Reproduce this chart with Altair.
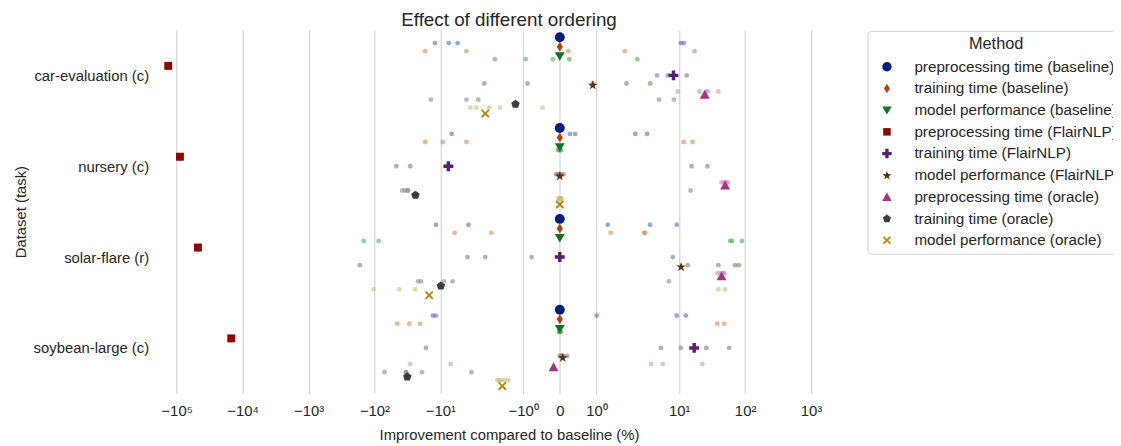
import math
import altair as alt
import pandas as pd

datasets = ["car-evaluation (c)", "nursery (c)", "solar-flare (r)", "soybean-large (c)"]
methods = [
    "preprocessing time (baseline)", "training time (baseline)", "model performance (baseline)",
    "preprocessing time (FlairNLP)", "training time (FlairNLP)", "model performance (FlairNLP)",
    "preprocessing time (oracle)", "training time (oracle)", "model performance (oracle)",
]

# mean improvement per method (large markers)
car_means = [0, 0, 0, -134000, 8.2, 0.9, 24.4, -1.21, -2.09]
nursery_means = [0, 0, 0, -89100, -7.57, 0.0, 49.8, -23.9, 0.0]
solar_means = [0, 0, 0, -47500, 0.0, 10.7, 43.9, -9.86, -14.8]
soybean_means = [0, 0, 0, -14860, 16.9, 0.08, -0.17, -31.8, -1.57]

# individual runs (small faint points)
car_runs = [
    [-12.1, -7.48, -5.48, 10.6, 11.7],
    [-17.1, -4.03, 0.23, 1.77, 17.1],
    [-1.77, -0.93, -0.19, 0.26, 2.32],
    [-131000, -136000, -133000, -138000, -132000],
    [4.62, 6.75, 8.3, 8.33, 13.0],
    [-2.16, -0.88, 0.9, 1.82, 3.63],
    [9.53, 20.3, 25.9, 27.1, 39.2],
    [-13.9, -4.03, -2.66, 4.95, 8.3],
    [-3.51, -2.85, -1.93, -1.63, -0.47],
]
nursery_runs = [
    [-6.75, 0.28, 0.42, 2.16, 3.27],
    [-17.1, -9.2, -4.03, 11.7, 16.0],
    [-0.05, 0.02, 0.03, -0.02, 0.0],
    [-86000, -91000, -88000, -93000, -87000],
    [-46.6, -28.7, -7.6, 15.4, 26.8],
    [-0.1, 0.05, 0.0, -0.05, 0.1],
    [43.5, 47.0, 50.0, 52.0, 55.0],
    [-37.9, -34.1, -31.6, -30.8, 14.9],
    [0.0, 0.02, -0.03, 0.05, -0.01],
]
solar_runs = [
    [-11.7, -3.76, 1.31, 3.63, 9.2],
    [-6.08, -1.87, 1.39, 2.95, 3.05],
    [-145, -86.5, 59.3, 63.5, 89.5],
    [-46000, -48500, -47000, -49000, -47500],
    [-3.89, -2.09, -0.77, 0.0, 8.02],
    [-167, 13.5, 39.2, 70.3, 80.7],
    [38, 42, 45, 47, 48],
    [-21.8, -19.7, -8.9, -6.52, 6.98],
    [-102.8, -42, -24.2, 39.2, 49.8],
]
soybean_runs = [
    [-13.0, -11.7, 1.01, 9.2, 12.6],
    [-45, -29.7, -20.3, 37.9, 48.2],
    [0.0, -0.02, 0.03, 0.01, -0.01],
    [-14500, -15200, -14800, -15000, -14700],
    [-16.5, 5.3, 10.6, 25.9, 57.3],
    [0.0, 0.1, 0.2, 0.05, 0.05],
    [-28.7, -6.98, 3.76, 5.68, 22.5],
    [-70.3, -33.0, -33.3, -19.0, -3.39],
    [-1.4, -1.6, -1.7, -1.5, -1.65],
]

tick_values = [-1e5, -1e4, -1e3, -1e2, -1e1, -1, 0, 1, 10, 100, 1000]
tick_labels = ["−10⁵", "−10⁴", "−10³", "−10²", "−10¹", "−10⁰", "0", "10⁰", "10¹", "10²", "10³"]

dark = ["#001c7f", "#b1400d", "#12711c", "#8c0800", "#591e71", "#592f0d", "#a23582", "#3c3c3c", "#b8850a"]
deep = ["#4c72b0", "#dd8452", "#55a868", "#c44e52", "#8172b3", "#937860", "#da8bc3", "#8c8c8c", "#ccb974"]

# ---- marker shapes (SVG paths in [-1, 1] box) ----
def poly(pts):
    return "M" + "L".join(f"{x:.3f},{y:.3f}" for x, y in pts) + "Z"

star_pts = []
for k in range(10):
    r = 1.0 if k % 2 == 0 else 0.40
    a = math.radians(-90 + 36 * k)
    star_pts.append((r * math.cos(a), r * math.sin(a) + 0.08))
pent_pts = [(0.9 * math.cos(math.radians(-90 + 72 * k)), 0.9 * math.sin(math.radians(-90 + 72 * k)) + 0.05) for k in range(5)]
t = 0.27
s = 0.87
x_pts = [(-s, -s + t), (-s + t, -s), (0, -t), (s - t, -s), (s, -s + t), (t, 0),
         (s, s - t), (s - t, s), (0, t), (-s + t, s), (-s, s - t), (-t, 0)]
w = 0.35
plus_pts = [(-w, -1), (w, -1), (w, -w), (1, -w), (1, w), (w, w), (w, 1), (-w, 1),
            (-w, w), (-1, w), (-1, -w), (-w, -w)]
shapes = [
    "circle",
    poly([(0, -1), (0.62, 0), (0, 1), (-0.62, 0)]),
    poly([(-1, -0.8), (1, -0.8), (0, 0.9)]),
    poly([(-0.8, -0.8), (0.8, -0.8), (0.8, 0.8), (-0.8, 0.8)]),
    poly(plus_pts),
    poly(star_pts),
    poly([(0, -0.95), (1, 0.85), (-1, 0.85)]),
    poly(pent_pts),
    poly(x_pts),
]

# ---- data table ----
rows = []
for di, (means, runs) in enumerate([(car_means, car_runs), (nursery_means, nursery_runs),
                                    (solar_means, solar_runs), (soybean_means, soybean_runs)]):
    for mi, m in enumerate(methods):
        rows.append({"dataset": datasets[di], "method": m, "di": di, "mi": mi,
                     "value": means[mi], "kind": "mean"})
        for v in runs[mi]:
            rows.append({"dataset": datasets[di], "method": m, "di": di, "mi": mi,
                         "value": v, "kind": "run"})
df = pd.DataFrame(rows)
run_keys = [f"run{i}" for i in range(len(methods))]

# matplotlib-style symlog (linthresh=2, linscale=1)
def symlog(v):
    if abs(v) <= 2:
        return v / 0.9
    return math.copysign(2 * (1 / 0.9 + math.log10(abs(v) / 2)), v)

u_expr = ("abs(datum.value) <= 2 ? datum.value / 0.9 : "
          "(datum.value > 0 ? 1 : -1) * 2 * (1 / 0.9 + log(abs(datum.value) / 2) / LN10)")

tick_u = [symlog(v) for v in tick_values]
expr = f"'{tick_labels[-1]}'"
for i in range(len(tick_u) - 2, -1, -1):
    th = (tick_u[i] + tick_u[i + 1]) / 2
    expr = f"datum.value < {th:.4f} ? '{tick_labels[i]}' : ({expr})"
ylabel_expr = "[" + ",".join(f"'{d}'" for d in datasets) + "][datum.value]"

FONT = "Liberation Sans"
TXT = "#262626"

xscale = alt.Scale(domain=[-12.23, 9.15], nice=False, zero=False)
yscale = alt.Scale(domain=[-0.5, 3.5], reverse=True, nice=False, zero=False)
xaxis = alt.Axis(values=tick_u, labelExpr=expr, grid=True, gridColor="#cccccc", gridWidth=1,
                 domain=False, ticks=False, labelPadding=10, labelFontSize=15, titleFontSize=15,
                 titlePadding=10, labelColor=TXT, titleColor=TXT, labelFont=FONT, titleFont=FONT,
                 titleFontWeight="normal", labelFlush=False, labelOverlap=False)
yaxis = alt.Axis(values=[0, 1, 2, 3], labelExpr=ylabel_expr, grid=False, domain=False, ticks=False,
                 labelPadding=8, labelFontSize=15, titleFontSize=15, titlePadding=5,
                 labelColor=TXT, titleColor=TXT, labelFont=FONT, titleFont=FONT,
                 titleFontWeight="normal", labelLimit=300)

legend = alt.Legend(title="Method", orient="none", legendX=718, legendY=1)

base = alt.Chart(df).transform_calculate(u=u_expr)

runs_layer = base.transform_filter("datum.kind == 'run'").transform_calculate(
    yy="datum.di + (datum.mi - 4) * 0.0889",
    rk="'run' + datum.mi",
).mark_circle(size=24, opacity=0.6).encode(
    x=alt.X("u:Q", scale=xscale, axis=xaxis, title="Improvement compared to baseline (%)"),
    y=alt.Y("yy:Q", scale=yscale, axis=yaxis, title="Dataset (task)"),
    fill=alt.Fill("rk:N", scale=alt.Scale(domain=run_keys, range=deep), legend=None),
)

means_layer = base.transform_filter("datum.kind == 'mean'").transform_calculate(
    yy="datum.di + (datum.mi - 4) * 0.105"
).mark_point(filled=True, size=100, opacity=1, strokeWidth=0).encode(
    x=alt.X("u:Q"),
    y=alt.Y("yy:Q"),
    color=alt.Color("method:N", scale=alt.Scale(domain=methods, range=dark), legend=legend),
    shape=alt.Shape("method:N", scale=alt.Scale(domain=methods, range=shapes), legend=legend),
)

chart = alt.layer(runs_layer, means_layer).properties(
    width=712, height=367,
    background="white",
    title=alt.Title("Effect of different ordering", fontSize=19, font=FONT, fontWeight="normal",
                    color=TXT, offset=0, anchor="middle", frame="group"),
    autosize=alt.AutoSizeParams(type="none"),
    padding={"left": 150, "top": 20, "right": 254, "bottom": 51},
).configure_view(strokeWidth=0).configure_legend(
    titleFontSize=16.5, titleFont=FONT, titleFontWeight="normal", titleColor=TXT,
    titleAnchor="middle", titleAlign="center", titlePadding=7,
    labelFontSize=15.4, labelFont=FONT, labelColor=TXT, labelLimit=400,
    padding=5, rowPadding=4.9, symbolSize=90, symbolStrokeWidth=0,
    symbolOffset=7, labelOffset=20,
    strokeColor="#d0d0d0", cornerRadius=4, fillColor="white",
)

chart.save("out.html", embed_options={"renderer": "svg", "actions": False})
